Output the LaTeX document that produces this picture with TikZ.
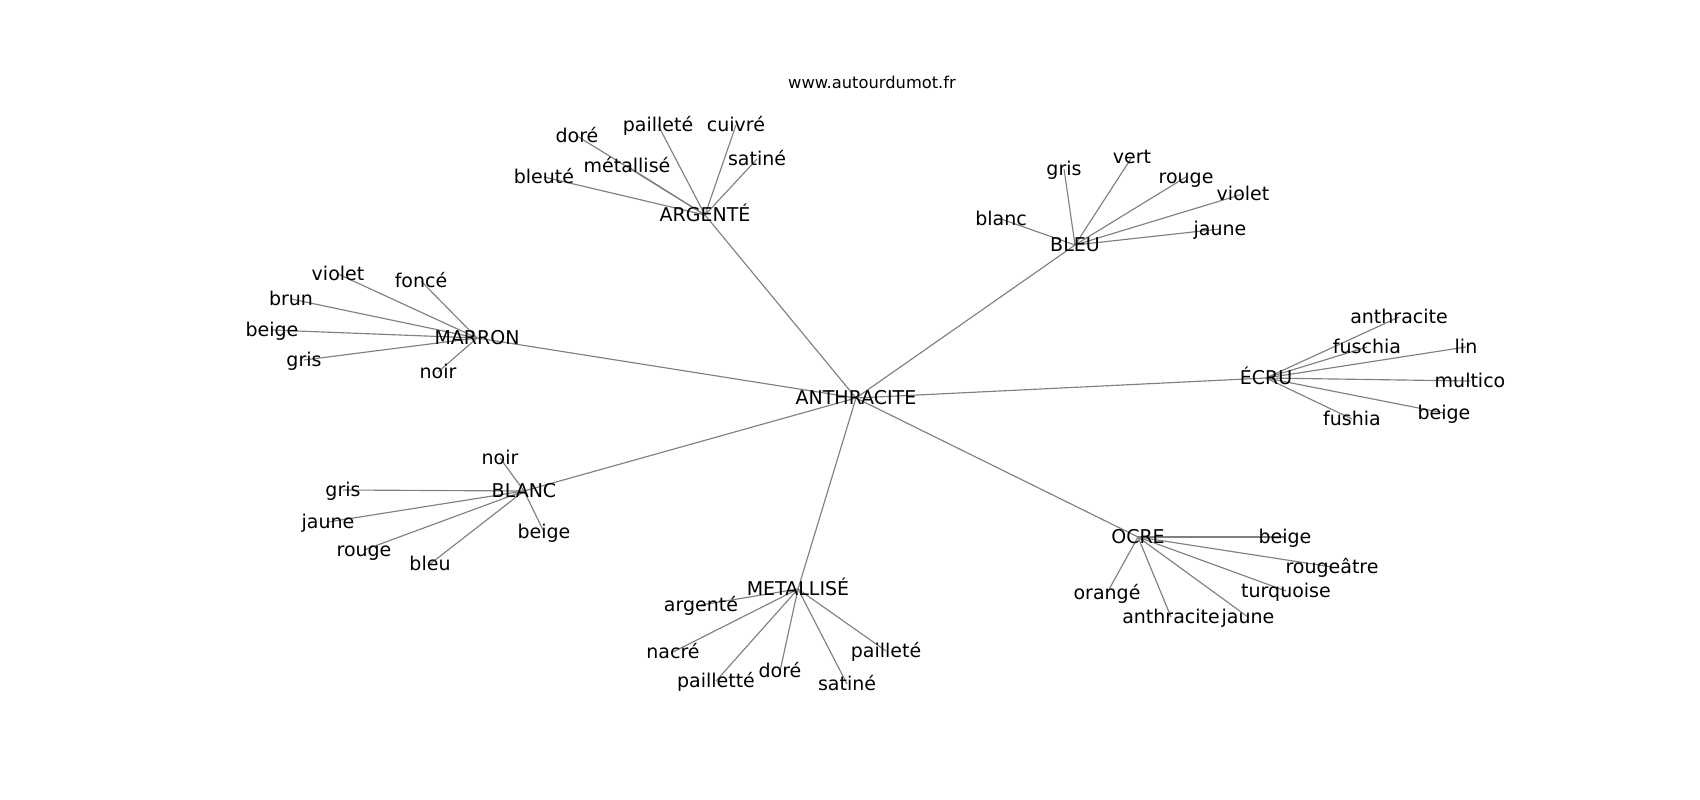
\documentclass[tikz,border=0pt]{standalone}
\usepackage{fontspec}
\setmainfont{DejaVu Sans}
\usetikzlibrary{backgrounds}
\tikzset{
  lbl/.style={anchor=base, inner sep=0pt, font=\fontsize{19}{19}\selectfont, text=black, yshift=-6.3pt},
  ttl/.style={anchor=base, inner sep=0pt, font=\fontsize{16.3}{16.3}\selectfont, text=black},
  edge/.style={draw=black!50, line width=1.15pt},
}
\begin{document}
\begin{tikzpicture}[x=1pt, y=-1pt]
\useasboundingbox (0,0) rectangle (1700,800);
\node[ttl] (title) at (872,88.3) {www.autourdumot.fr};
% hubs
\node[lbl] (anth) at (856,398) {ANTHRACITE};
\node[lbl] (arg) at (705,215) {ARGENTÉ};
\node[lbl] (bleu) at (1075,245) {BLEU};
\node[lbl] (marron) at (477,338) {MARRON};
\node[lbl] (ecru) at (1266,378) {ÉCRU};
\node[lbl] (blanc) at (524,491) {BLANC};
\node[lbl] (metal) at (798,589) {METALLISÉ};
\node[lbl] (ocre) at (1138,537) {OCRE};
% ARGENTE leaves
\node[lbl] (a1) at (577,136) {doré};
\node[lbl] (a2) at (658,125) {pailleté};
\node[lbl] (a3) at (736,125) {cuivré};
\node[lbl] (a4) at (627,166) {métallisé};
\node[lbl] (a5) at (757,159) {satiné};
\node[lbl] (a6) at (544,177) {bleuté};
% BLEU leaves
\node[lbl] (b1) at (1064,169) {gris};
\node[lbl] (b2) at (1132,157) {vert};
\node[lbl] (b3) at (1186,177) {rouge};
\node[lbl] (b4) at (1243,194) {violet};
\node[lbl] (b5) at (1220,229) {jaune};
\node[lbl] (b6) at (1001,219) {blanc};
% MARRON leaves
\node[lbl] (m1) at (338,274) {violet};
\node[lbl] (m2) at (421,281) {foncé};
\node[lbl] (m3) at (291,299) {brun};
\node[lbl] (m4) at (272,330) {beige};
\node[lbl] (m5) at (304,360) {gris};
\node[lbl] (m6) at (438,372) {noir};
% ECRU leaves
\node[lbl] (e1) at (1399,317) {anthracite};
\node[lbl] (e2) at (1367,347) {fuschia};
\node[lbl] (e3) at (1466,347) {lin};
\node[lbl] (e4) at (1470,381) {multico};
\node[lbl] (e5) at (1444,413) {beige};
\node[lbl] (e6) at (1352,419) {fushia};
% BLANC leaves
\node[lbl] (w1) at (500,458) {noir};
\node[lbl] (w2) at (343,490) {gris};
\node[lbl] (w3) at (328,522) {jaune};
\node[lbl] (w4) at (364,550) {rouge};
\node[lbl] (w5) at (430,564) {bleu};
\node[lbl] (w6) at (544,532) {beige};
% METALLISE leaves
\node[lbl] (t1) at (701,605) {argenté};
\node[lbl] (t2) at (673,652) {nacré};
\node[lbl] (t3) at (716,681) {pailletté};
\node[lbl] (t4) at (780,671) {doré};
\node[lbl] (t5) at (847,684) {satiné};
\node[lbl] (t6) at (886,651) {pailleté};
% OCRE leaves
\node[lbl] (o1) at (1285,537) {beige};
\node[lbl] (o2) at (1332,567) {rougeâtre};
\node[lbl] (o3) at (1286,591) {turquoise};
\node[lbl] (o4) at (1248,617) {jaune};
\node[lbl] (o5) at (1171,617) {anthracite};
\node[lbl] (o6) at (1107,593) {orangé};
\begin{pgfonlayer}{background}
\foreach \h in {arg,bleu,marron,ecru,blanc,metal,ocre}
  \draw[edge] ([yshift=6.3pt]anth.base) -- ([yshift=6.3pt]\h.base);
\foreach \l in {a1,a2,a3,a4,a5,a6}
  \draw[edge] ([yshift=6.3pt]arg.base) -- ([yshift=6.3pt]\l.base);
\foreach \l in {b1,b2,b3,b4,b5,b6}
  \draw[edge] ([yshift=6.3pt]bleu.base) -- ([yshift=6.3pt]\l.base);
\foreach \l in {m1,m2,m3,m4,m5,m6}
  \draw[edge] ([yshift=6.3pt]marron.base) -- ([yshift=6.3pt]\l.base);
\foreach \l in {e1,e2,e3,e4,e5,e6}
  \draw[edge] ([yshift=6.3pt]ecru.base) -- ([yshift=6.3pt]\l.base);
\foreach \l in {w1,w2,w3,w4,w5,w6}
  \draw[edge] ([yshift=6.3pt]blanc.base) -- ([yshift=6.3pt]\l.base);
\foreach \l in {t1,t2,t3,t4,t5,t6}
  \draw[edge] ([yshift=6.3pt]metal.base) -- ([yshift=6.3pt]\l.base);
\foreach \l in {o1,o2,o3,o4,o5,o6}
  \draw[edge] ([yshift=6.3pt]ocre.base) -- ([yshift=6.3pt]\l.base);
\end{pgfonlayer}
\end{tikzpicture}
\end{document}
